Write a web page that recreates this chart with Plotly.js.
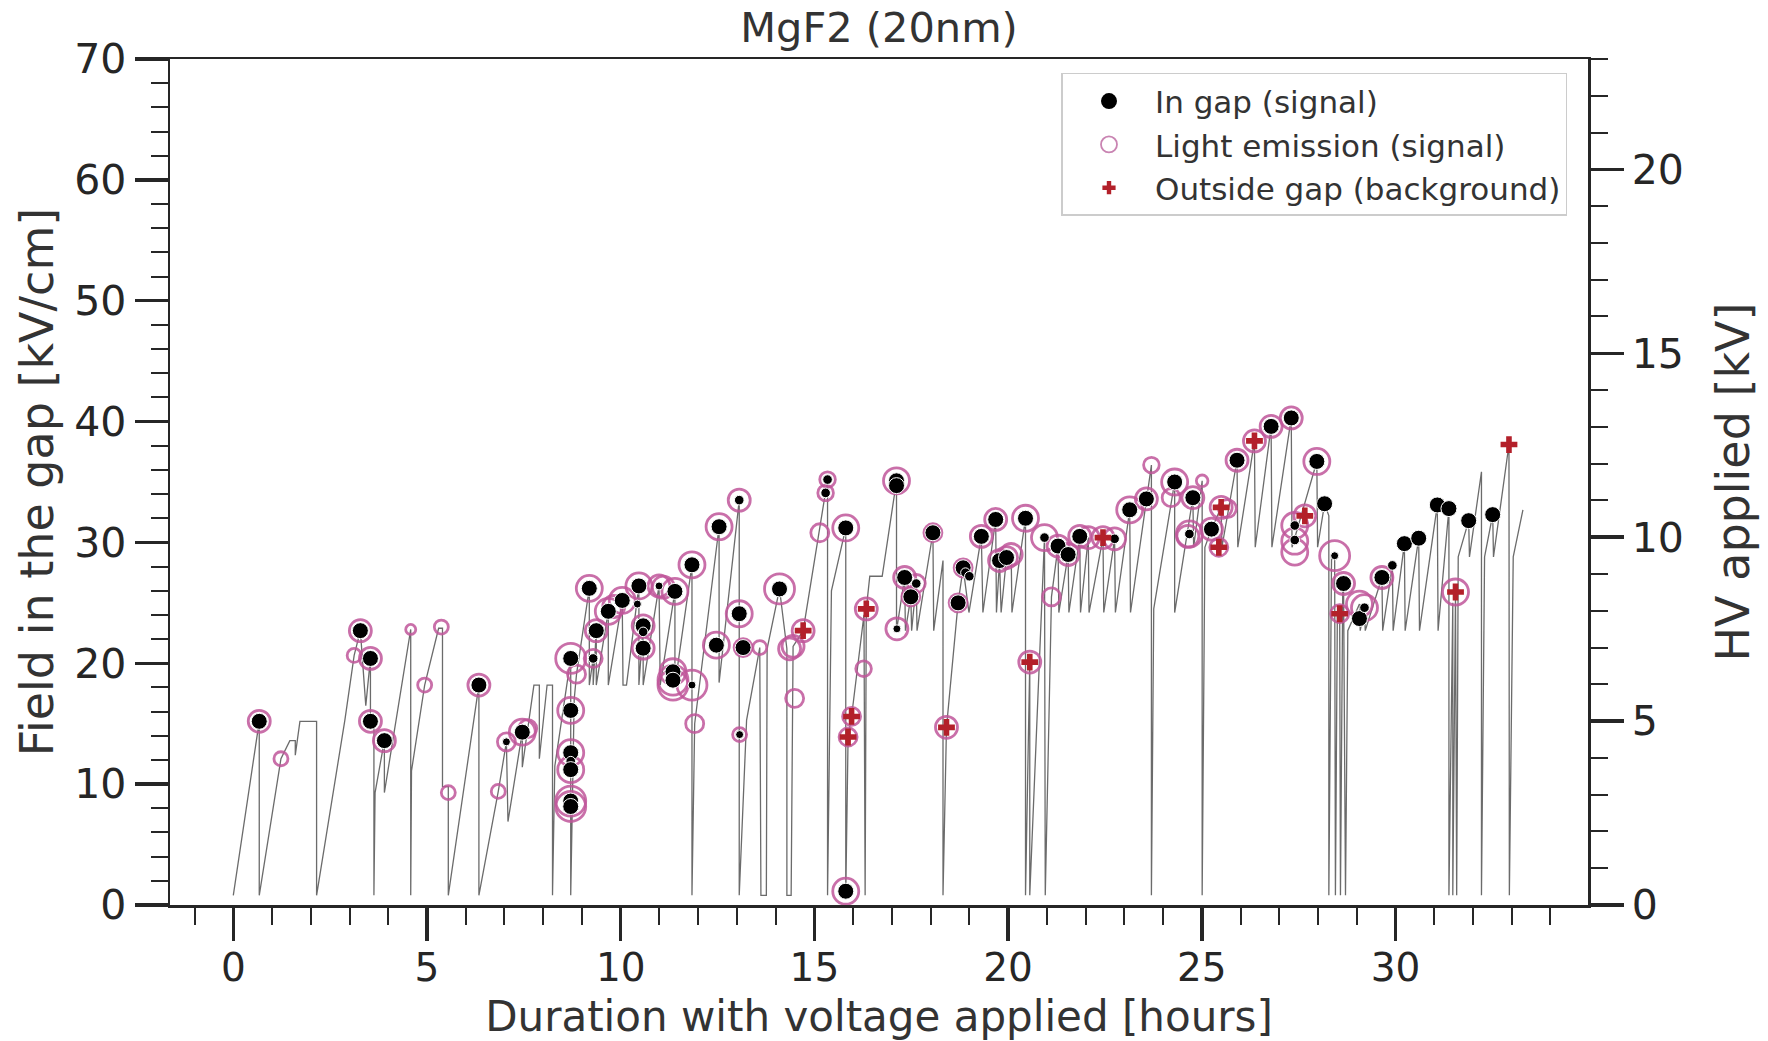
<!DOCTYPE html>
<html>
<head>
<meta charset="utf-8">
<script src="https://cdn.plot.ly/plotly-3.0.1.min.js"></script>
<style>
  html, body { margin: 0; padding: 0; background: #ffffff; }
  #chart { width: 1768px; height: 1041px; }
</style>
</head>
<body>
<div id="chart"></div>
<script>
// Applied HV history, expressed as the field in the gap [kV/cm]
const rampT = [
  0, 0.67, 0.67, 1.23, 1.46, 1.60, 1.60, 1.72, 2.15, 2.15,
  2.88, 3.12, 3.28, 3.42, 3.54, 3.54, 3.63, 3.63, 3.66, 3.90, 3.90,
  4.58, 4.58, 4.60, 4.94, 5.30, 5.40, 5.40, 5.55, 5.55,
  6.34, 6.34, 6.84, 7.05, 7.09, 7.46, 7.46, 7.60, 7.76, 7.90, 7.90, 8.10, 8.24, 8.24,
  8.30, 8.71, 8.71, 8.80, 8.86, 9.19, 9.19, 9.29, 9.29, 9.37, 9.37, 9.68, 9.68,
  10.04, 10.06, 10.15, 10.47, 10.47, 10.58, 10.58, 10.99, 11.02, 11.40, 11.40,
  11.84, 11.84, 11.91, 12.54, 12.54, 13.06, 13.06, 13.25, 13.59, 13.62, 13.76,
  13.78, 14.10, 14.29, 14.29, 14.40, 14.45, 14.71, 15.34, 15.34, 15.44, 15.81, 15.81,
  15.87, 15.96, 16.28, 16.31, 16.34, 16.43, 16.75, 17.12, 17.12,
  17.33, 17.35, 17.49, 17.51, 17.63, 17.65, 18.06, 18.08, 18.32, 18.32,
  18.41, 18.71, 18.84, 18.99, 19.31, 19.35, 19.68, 19.70, 19.78, 19.82, 19.96, 20.08, 20.10,
  20.45, 20.45, 20.56, 20.56, 20.94, 20.96, 21.12, 21.29, 21.31, 21.55, 21.57,
  21.85, 21.87, 22.07, 22.09, 22.45, 22.47, 22.75, 22.77, 23.14, 23.16,
  23.57, 23.70, 23.70, 23.76, 24.30, 24.30, 24.77, 24.79, 25.01, 25.01,
  25.08, 25.25, 25.50, 25.52, 25.91, 25.93, 26.36, 26.38, 26.79, 26.81, 27.31, 27.33,
  27.97, 27.99, 28.17, 28.28, 28.28, 28.35, 28.43, 28.45, 28.50, 28.56, 28.58,
  28.64, 28.66, 28.71, 28.77, 29.07, 29.09, 29.20, 29.22, 29.65, 29.67,
  29.92, 29.94, 30.23, 30.25, 30.60, 30.62, 31.08, 31.10, 31.38, 31.38,
  31.48, 31.48, 31.55, 31.58, 31.62, 31.89, 31.91, 32.22, 32.22, 32.30,
  32.51, 32.53, 32.93, 32.94, 33.04, 33.29
];
const rampField = [
  0.8, 15.2, 0.8, 12.1, 13.6, 13.6, 12.4, 15.2, 15.2, 0.8,
  15.3, 20.65, 22.7, 16.5, 20.4, 15.2, 15.2, 0.8, 9.3, 13.6, 9.3,
  22.8, 0.8, 11.1, 18.2, 22.9, 22.9, 9.8, 9.8, 0.8,
  18.2, 0.8, 9.4, 13.5, 6.9, 14.3, 11.4, 14.6, 18.2, 18.2, 12.1, 18.2, 18.2, 0.8,
  11.5, 20.4, 0.8, 17.0, 19.1, 26.2, 18.2, 20.4, 18.2, 22.7, 18.2, 24.3, 18.2,
  25.2, 18.2, 18.2, 26.4, 18.2, 23.1, 18.2, 26.4, 18.2, 25.95, 18.2,
  28.15, 0.8, 15.0, 31.3, 18.4, 33.5, 0.8, 15.3, 21.3, 0.8, 0.8,
  21.2, 26.15, 21.2, 0.8, 0.8, 21.4, 22.7, 35.2, 0.8, 26.0, 31.2, 0.8,
  13.9, 15.6, 24.0, 0.8, 24.5, 27.2, 27.2, 35.1, 22.7,
  27.1, 22.7, 25.5, 22.7, 26.6, 22.7, 30.8, 22.7, 28.5, 0.8,
  14.7, 25.0, 27.9, 24.2, 30.5, 24.2, 31.9, 24.2, 28.5, 24.2, 28.75, 29.0, 24.2,
  32.0, 0.8, 20.1, 0.8, 30.4, 0.8, 25.5, 29.7, 24.2, 29.0, 24.2,
  30.5, 24.2, 30.4, 24.2, 30.4, 24.2, 30.3, 24.2, 32.7, 24.2,
  33.6, 36.4, 0.8, 24.5, 35.0, 24.2, 33.7, 29.6, 35.1, 0.8,
  29.6, 31.1, 32.9, 29.6, 36.8, 29.6, 38.4, 29.6, 39.6, 29.6, 40.3, 29.6,
  36.7, 29.6, 33.2, 32.2, 0.8, 28.9, 28.9, 0.8, 24.1, 24.1, 0.8,
  26.6, 26.6, 0.8, 22.7, 24.9, 22.7, 24.6, 22.7, 27.1, 22.7,
  28.1, 22.7, 29.9, 22.7, 30.35, 22.7, 33.1, 22.7, 32.8, 0.8,
  25.0, 0.8, 25.9, 0.8, 28.8, 31.8, 28.8, 35.85, 0.8, 28.8,
  32.3, 28.8, 38.1, 0.8, 28.8, 32.7
];

// Breakdowns inside the gap: time [h], field [kV/cm], relative spot weight
const inGapT = [
  0.67, 3.28, 3.54, 3.54, 3.90, 6.34, 7.05, 7.46,
  8.71, 8.71, 8.71, 8.71, 8.71, 8.71, 8.71,
  9.19, 9.29, 9.37, 9.68, 10.04, 10.47, 10.43, 10.58, 10.58, 10.58,
  10.99, 11.40, 11.35, 11.35, 11.84, 11.84, 12.47, 12.54, 13.06, 13.06, 13.16, 13.07,
  14.10, 15.34, 15.29, 15.81, 15.81, 17.12, 17.12, 17.33, 17.63, 17.49, 17.13,
  18.06, 18.71, 18.84, 18.90, 19.00, 19.31, 19.68, 19.78, 19.96, 20.45,
  20.94, 21.29, 21.55, 21.85, 22.75, 23.14, 23.57, 24.30, 24.77, 24.68,
  25.25, 25.91, 26.79, 27.31, 27.40, 27.40, 27.97, 28.17, 28.43, 28.66,
  29.07, 29.20, 29.65, 29.92, 30.23, 30.60, 31.08, 31.38, 31.89, 32.51
];
const inGapField = [
  15.2, 22.7, 20.4, 15.2, 13.6, 18.2, 13.5, 14.3,
  20.4, 16.1, 12.6, 11.9, 11.2, 8.6, 8.15,
  26.2, 20.4, 22.7, 24.3, 25.2, 26.4, 24.9, 23.1, 22.6, 21.25,
  26.4, 25.95, 19.3, 18.6, 18.2, 28.15, 21.5, 31.3, 33.5, 24.1, 21.3, 14.1,
  26.15, 35.2, 34.1, 31.2, 1.14, 35.1, 34.7, 27.1, 26.6, 25.5, 22.85,
  30.8, 25.0, 27.9, 27.5, 27.2, 30.5, 31.9, 28.5, 28.75, 32.0,
  30.4, 29.7, 29.0, 30.5, 30.3, 32.7, 33.6, 35.0, 33.7, 30.7,
  31.1, 36.8, 39.6, 40.3, 31.4, 30.2, 36.7, 33.2, 28.9, 26.6,
  23.7, 24.6, 27.1, 28.1, 29.9, 30.35, 33.1, 32.8, 31.8, 32.3
];
const inGapWeight = [
  1, 1, 1, 1, 1, 1, 0.5, 1,
  1, 1, 1, 0.6, 1, 1, 1,
  1, 0.6, 1, 1, 1, 1, 0.5, 1, 0.6, 1,
  0.5, 1, 1, 1, 0.5, 1, 1, 1, 0.6, 1, 1, 0.5,
  1, 0.6, 0.6, 1, 1, 1, 1, 1, 0.6, 1, 0.5,
  1, 1, 1, 0.6, 0.6, 1, 1, 1, 1, 1,
  0.6, 1, 1, 1, 0.6, 1, 1, 1, 1, 0.6,
  1, 1, 1, 1, 0.6, 0.6, 1, 1, 0.5, 1,
  1, 0.6, 1, 0.6, 1, 1, 1, 1, 1, 1
];

// Light emission seen by the camera: time [h], field [kV/cm], relative intensity
const lightT = [
  0.67, 1.23, 3.12, 3.28, 3.54, 3.54, 3.90, 4.58, 4.94, 5.37, 5.55, 6.34, 6.84,
  7.05, 7.46, 7.60, 8.71, 8.86, 8.71, 8.71, 8.71, 8.71, 8.71,
  9.19, 9.29, 9.37, 9.68, 9.82, 10.04, 10.47, 10.58, 10.58, 10.99, 11.10, 11.40,
  11.35, 11.35, 11.35, 11.84, 11.91, 11.84, 12.47, 12.54, 13.06, 13.06, 13.16,
  13.59, 13.07, 14.10, 14.36, 14.45, 14.71, 14.49, 15.34, 15.29, 15.14,
  15.81, 15.81, 15.96, 15.87, 16.34, 16.27, 17.12, 17.33, 17.63, 17.49, 17.13,
  18.06, 18.41, 18.71, 18.84, 19.31, 19.68, 19.78, 19.96, 20.08, 20.45, 20.56,
  20.94, 21.12, 21.29, 21.55, 21.85, 22.07, 22.45, 22.75, 23.14, 23.57, 23.70,
  24.30, 24.21, 24.77, 24.68, 24.64, 25.01, 25.25, 25.50, 25.66, 25.44, 25.91,
  26.36, 26.79, 27.31, 27.40, 27.40, 27.40, 27.66, 27.97, 28.43, 28.66, 28.56,
  29.07, 29.20, 29.65, 31.55
];
const lightField = [
  15.2, 12.1, 20.65, 22.7, 20.4, 15.2, 13.6, 22.8, 18.2, 23.0, 9.3, 18.2, 9.4,
  13.5, 14.3, 14.6, 20.4, 19.1, 16.1, 12.6, 11.2, 8.6, 8.15,
  26.2, 20.4, 22.7, 24.3, 24.7, 25.2, 26.4, 23.1, 21.25, 26.4, 26.3, 25.95,
  19.3, 18.6, 18.2, 18.2, 15.0, 28.15, 21.5, 31.3, 33.5, 24.1, 21.3,
  21.3, 14.1, 26.15, 21.2, 21.4, 22.7, 17.1, 35.2, 34.1, 30.8,
  31.2, 1.14, 15.6, 13.9, 24.5, 19.55, 35.1, 27.1, 26.6, 25.5, 22.85,
  30.8, 14.7, 25.0, 27.9, 30.5, 31.9, 28.5, 28.75, 29.0, 32.0, 20.1,
  30.4, 25.5, 29.7, 29.0, 30.5, 30.4, 30.4, 30.3, 32.7, 33.6, 36.4,
  35.0, 33.7, 33.7, 30.7, 30.5, 35.1, 31.1, 32.9, 32.8, 29.6, 36.8,
  38.4, 39.6, 40.3, 31.4, 30.1, 29.2, 32.2, 36.7, 28.9, 26.6, 24.1,
  24.9, 24.6, 27.1, 25.9
];
const lightIntensity = [
  2, 1, 1, 2, 2, 2, 2, 0.5, 1, 1, 1, 2, 1,
  1.5, 2.5, 1.5, 3, 1.5, 2.5, 2.5, 2.5, 3, 3,
  2.5, 1.5, 2, 2.5, 2, 2.5, 2.5, 2, 2, 2, 2, 2.5,
  2.5, 3, 3, 3, 1.5, 2.5, 2.5, 2.5, 2, 2.5, 1.5,
  1, 1, 3, 2, 2, 2, 1.5, 1.2, 1.2, 1.5,
  2.5, 2.5, 1.5, 1.5, 2, 1.2, 2.5, 2, 1.5, 1.5, 2,
  1.5, 2, 1.5, 1.5, 2, 2, 2, 2, 2, 2.5, 2,
  2.5, 1.5, 2, 2, 2, 2, 2, 2, 2.5, 2, 1.2,
  2.5, 1.5, 2, 2.5, 2, 0.7, 2, 2, 1.5, 1.5, 2,
  2, 2, 2, 2.5, 2.5, 2.5, 2, 2.5, 3, 2, 1.5,
  2.5, 2.5, 2, 2.5
];

// Breakdowns outside the gap (background)
const outsideT = [14.71, 15.96, 15.87, 16.34, 18.41, 20.56, 22.45, 25.50, 25.44, 26.36, 27.66, 28.56, 31.55, 32.93];
const outsideField = [22.7, 15.6, 13.9, 24.5, 14.7, 20.1, 30.4, 32.9, 29.6, 38.4, 32.2, 24.1, 25.9, 38.1];

// Axis settings
const fieldRange = [0, 70];   // kV/cm, left axis
const hvRange = [0, 23];      // kV, right axis (same scale as the field axis)
const timeRange = [-1.634, 34.97];

const INK = '#262626';
const TEXT = '#333333';
const PINK = 'rgba(192, 86, 154, 0.85)';
const RED = '#b3202a';
const FONT = 'DejaVu Sans, Verdana, sans-serif';

const traces = [
  {
    x: rampT, y: rampField, type: 'scatter', mode: 'lines',
    line: { color: 'rgba(70,70,70,0.8)', width: 1.3 },
    showlegend: false, hoverinfo: 'skip'
  },
  {
    x: lightT, y: lightField, type: 'scatter', mode: 'markers',
    marker: {
      symbol: 'circle-open',
      size: lightIntensity.map(v => 6 + 8 * v),
      color: PINK,
      opacity: 1,
      line: { width: 2.8, color: PINK }
    },
    showlegend: false
  },
  {
    x: inGapT, y: inGapField, type: 'scatter', mode: 'markers',
    marker: { symbol: 'circle', size: inGapWeight.map(w => 16 * w), color: '#000000', opacity: 1 },
    showlegend: false
  },
  {
    x: outsideT, y: outsideField, type: 'scatter', mode: 'markers',
    marker: { symbol: 'cross', size: 14, color: RED, opacity: 1 },
    showlegend: false
  },
  // legend keys
  {
    x: [null], y: [null], type: 'scatter', mode: 'markers', name: 'In gap (signal)',
    marker: { symbol: 'circle', size: 19, color: '#000000', opacity: 1 }
  },
  {
    x: [null], y: [null], type: 'scatter', mode: 'markers', name: 'Light emission (signal)',
    marker: { symbol: 'circle-open', size: 16, color: 'rgba(192,110,165,0.85)', opacity: 1, line: { width: 1.8 } }
  },
  {
    x: [null], y: [null], type: 'scatter', mode: 'markers', name: 'Outside gap (background)',
    marker: { symbol: 'cross', size: 11, color: RED, opacity: 1 }
  },
  // invisible trace anchoring the HV axis
  {
    x: [null], y: [null], yaxis: 'y2', type: 'scatter', mode: 'markers',
    showlegend: false, hoverinfo: 'skip'
  }
];

const baseAxis = {
  showgrid: false,
  zeroline: false,
  showline: true,
  linecolor: INK,
  linewidth: 2.5,
  ticks: 'outside',
  ticklen: 33,
  tickwidth: 3.5,
  tickcolor: INK,
  tickfont: { family: FONT, size: 41, color: INK },
  automargin: false
};

const layout = {
  width: 1768,
  height: 1041,
  paper_bgcolor: '#ffffff',
  plot_bgcolor: '#ffffff',
  font: { family: FONT, color: INK },
  margin: { l: 170, r: 180, t: 59, b: 136 },
  title: {
    text: 'MgF2 (20nm)',
    font: { family: FONT, size: 41.5, color: TEXT },
    x: 0.5, xref: 'paper', xanchor: 'center',
    y: 0.974, yref: 'container', yanchor: 'middle'
  },
  xaxis: Object.assign({}, baseAxis, {
    range: timeRange,
    tickmode: 'linear', tick0: 0, dtick: 5,
    mirror: true,
    tickfont: { family: FONT, size: 39, color: INK },
    ticklabelstandoff: -6,
    minor: { ticks: 'outside', dtick: 1, tick0: 0, ticklen: 17, tickwidth: 2, tickcolor: INK },
    title: { text: 'Duration with voltage applied [hours]', font: { family: FONT, size: 42, color: TEXT }, standoff: 16 }
  }),
  yaxis: Object.assign({}, baseAxis, {
    range: fieldRange,
    tickmode: 'linear', tick0: 0, dtick: 10,
    minor: { ticks: 'outside', dtick: 2, tick0: 0, ticklen: 17, tickwidth: 2, tickcolor: INK },
    title: { text: 'Field in the gap [kV/cm]', font: { family: FONT, size: 46, color: TEXT }, standoff: 6 }
  }),
  yaxis2: Object.assign({}, baseAxis, {
    range: hvRange,
    overlaying: 'y',
    side: 'right',
    tickmode: 'linear', tick0: 0, dtick: 5,
    minor: { ticks: 'outside', dtick: 1, tick0: 0, ticklen: 17, tickwidth: 2, tickcolor: INK },
    title: { text: 'HV applied [kV]', font: { family: FONT, size: 46, color: TEXT }, standoff: 34 }
  }),
  showlegend: true,
  legend: {
    x: 0.6287, y: 0.9835, xanchor: 'left', yanchor: 'top',
    bgcolor: 'rgba(255,255,255,0.85)',
    bordercolor: '#cccccc', borderwidth: 1.5,
    font: { family: FONT, size: 31, color: TEXT },
    itemwidth: 82,
    tracegroupgap: 0
  }
};

Plotly.newPlot('chart', traces, layout, { staticPlot: true, displayModeBar: false });
</script>
</body>
</html>
